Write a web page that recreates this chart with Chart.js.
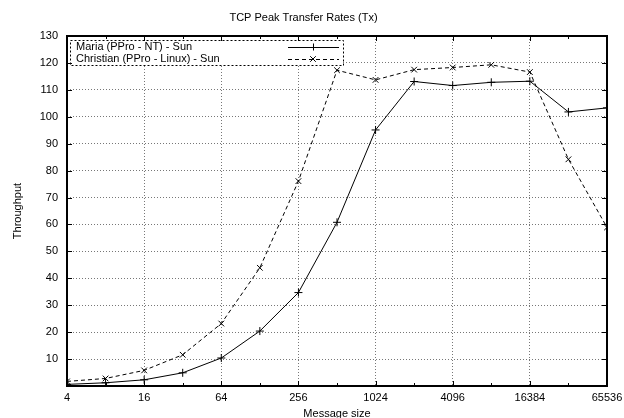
<!DOCTYPE html>
<html>
<head>
<meta charset="utf-8">
<script src="https://cdn.jsdelivr.net/npm/chart.js@4.4.0/dist/chart.umd.min.js"></script>
<style>
  html, body { margin: 0; padding: 0; background: #fff; }
</style>
</head>
<body>
<canvas id="chart" width="624" height="418"></canvas>
<script>
const messageSizes = [4, 8, 16, 32, 64, 128, 256, 512, 1024, 2048, 4096, 8192, 16384, 32768, 65536];
const mariaNT = [0.6, 1.2, 2.3, 4.9, 10.4, 20.4, 34.7, 60.8, 95.1, 113.1, 111.6, 112.8, 113.2, 101.8, 103.3];
const christianLinux = [1.7, 2.8, 5.8, 11.6, 23.2, 43.9, 76.1, 117.3, 113.7, 117.5, 118.3, 119.3, 116.6, 84.2, 58.9];
const seriesNames = ['Maria (PPro - NT) - Sun', 'Christian (PPro - Linux) - Sun'];
const xTickValues = [4, 16, 64, 256, 1024, 4096, 16384, 65536];
const yMax = 130;
const yStep = 10;

const FONT = 'Liberation Sans, Arial, Helvetica, sans-serif';

const toPoints = (values) => messageSizes.map((x, i) => ({ x, y: values[i] }));

// frame, inward tick marks and the boxed key, drawn like a gnuplot figure
const framePlugin = {
  id: 'frame',
  afterDatasetsDraw(chart) {
    const { ctx, chartArea: a, scales } = chart;
    const xs = scales.x, ys = scales.y;

    // key box
    const kx = 70, ky = 40, kw = 273, kh = 25;
    ctx.save();
    ctx.fillStyle = '#fff';
    ctx.fillRect(kx, ky, kw, kh);
    ctx.strokeStyle = '#000';
    ctx.lineWidth = 1;
    ctx.setLineDash([2, 2]);
    ctx.strokeRect(kx + 0.5, ky + 0.5, kw, kh);
    ctx.setLineDash([]);
    ctx.font = '11px ' + FONT;
    ctx.fillStyle = '#000';
    ctx.textBaseline = 'middle';
    chart.data.datasets.forEach((ds, i) => {
      const ry = ky + 7 + i * 12;
      ctx.fillText(ds.label, kx + 6, ry);
      ctx.beginPath();
      ctx.setLineDash(ds.borderDash || []);
      ctx.moveTo(288, ry + 0.5);
      ctx.lineTo(339, ry + 0.5);
      ctx.stroke();
      ctx.setLineDash([]);
      const mx = 313, r = 3.5;
      ctx.beginPath();
      if (ds.pointStyle === 'cross') {
        ctx.moveTo(mx - r, ry + 0.5); ctx.lineTo(mx + r, ry + 0.5);
        ctx.moveTo(mx + 0.5, ry - r); ctx.lineTo(mx + 0.5, ry + r);
      } else {
        const d = r * 0.8;
        ctx.moveTo(mx - d, ry - d); ctx.lineTo(mx + d, ry + d);
        ctx.moveTo(mx - d, ry + d); ctx.lineTo(mx + d, ry - d);
      }
      ctx.stroke();
    });
    ctx.restore();

    // tick marks
    ctx.save();
    ctx.strokeStyle = '#000';
    ctx.lineWidth = 1;
    ctx.beginPath();
    for (let v = yStep; v < yMax; v += yStep) {
      const py = Math.round(ys.getPixelForValue(v)) + 0.5;
      ctx.moveTo(a.left, py); ctx.lineTo(a.left + 5, py);
      ctx.moveTo(a.right, py); ctx.lineTo(a.right - 5, py);
    }
    messageSizes.slice(1, -1).forEach((v) => {
      const len = xTickValues.includes(v) ? 5 : 3;
      const px = Math.round(xs.getPixelForValue(v)) + 0.5;
      ctx.moveTo(px, a.bottom); ctx.lineTo(px, a.bottom - len);
      ctx.moveTo(px, a.top); ctx.lineTo(px, a.top + len);
    });
    ctx.stroke();

    // border
    ctx.lineWidth = 2;
    ctx.strokeRect(a.left, a.top, a.right - a.left, a.bottom - a.top);
    ctx.restore();
  }
};

const gridColor = (edgeValues) => (c) =>
  edgeValues.includes(c.tick.value) ? 'rgba(0,0,0,0)' : '#777';

new Chart(document.getElementById('chart').getContext('2d'), {
  type: 'line',
  data: {
    datasets: [
      {
        label: seriesNames[0],
        data: toPoints(mariaNT),
        borderColor: '#000',
        borderWidth: 1,
        pointStyle: 'cross',
        pointRadius: 4,
        pointBorderColor: '#000',
        pointBorderWidth: 1,
        fill: false,
        tension: 0
      },
      {
        label: seriesNames[1],
        data: toPoints(christianLinux),
        borderColor: '#000',
        borderWidth: 1,
        borderDash: [4, 3],
        pointStyle: 'crossRot',
        pointRadius: 4,
        pointBorderColor: '#000',
        pointBorderWidth: 1,
        fill: false,
        tension: 0
      }
    ]
  },
  options: {
    responsive: false,
    animation: false,
    devicePixelRatio: 1,
    layout: { padding: { left: 0, right: 17, top: 0, bottom: 0 } },
    plugins: {
      legend: { display: false },
      tooltip: { enabled: false },
      title: {
        display: true,
        text: 'TCP Peak Transfer Rates (Tx)',
        color: '#000',
        font: { family: FONT, size: 11, weight: 'normal', lineHeight: 1.2 },
        padding: { top: 11.4, bottom: 11.4 }
      }
    },
    scales: {
      x: {
        type: 'logarithmic',
        min: 4,
        max: 65536,
        afterBuildTicks: (scale) => {
          scale.ticks = xTickValues.map((value) => ({ value }));
        },
        afterFit: (scale) => {
          scale.height = 32;
          scale.paddingRight = 0;
        },
        ticks: {
          autoSkip: false,
          maxRotation: 0,
          padding: 5,
          color: '#000',
          font: { family: FONT, size: 11 },
          callback: (value) => String(value)
        },
        grid: {
          drawTicks: false,
          color: gridColor([4, 65536]),
          lineWidth: 1
        },
        border: { display: false, dash: [1, 2] },
        title: {
          display: true,
          text: 'Message size',
          color: '#000',
          font: { family: FONT, size: 11, lineHeight: 1 },
          padding: { top: 0, bottom: -1.5 }
        }
      },
      y: {
        type: 'linear',
        min: 0,
        max: yMax,
        afterFit: (scale) => { scale.width = 67; },
        ticks: {
          stepSize: yStep,
          padding: 9,
          color: '#000',
          font: { family: FONT, size: 11 },
          callback: (value) => (value === 0 ? '' : String(value))
        },
        grid: {
          drawTicks: false,
          color: gridColor([0, yMax]),
          lineWidth: 1
        },
        border: { display: false, dash: [1, 2] },
        title: {
          display: true,
          text: 'Throughput',
          color: '#000',
          font: { family: FONT, size: 11, lineHeight: 1 },
          padding: { top: 12.5, bottom: 0 }
        }
      }
    }
  },
  plugins: [framePlugin]
});
</script>
</body>
</html>
